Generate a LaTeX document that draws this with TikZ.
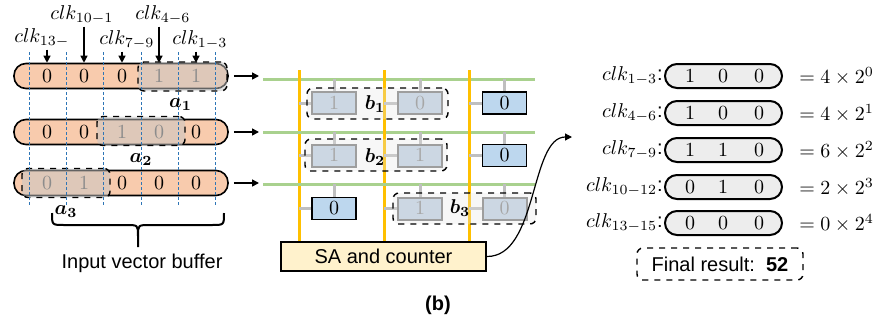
\documentclass[tikz,border=0pt]{standalone}
\usepackage{fontspec}
\setmainfont{Liberation Sans}
\usepackage{amsmath}
\usepackage{bm}
\usetikzlibrary{positioning,arrows.meta}

\definecolor{bufferorange}{HTML}{F8CBAD}
\definecolor{cellblue}{HTML}{BDD7EE}
\definecolor{selblue}{HTML}{C2D2E3}
\definecolor{wordgreen}{HTML}{A9D18E}
\definecolor{bitorange}{HTML}{FFC000}
\definecolor{sayellow}{HTML}{FFF2CC}
\definecolor{stubgray}{HTML}{BFBFBF}
\definecolor{pillgray}{HTML}{EDEDED}
\definecolor{clkblue}{HTML}{2E75B6}

\begin{document}
\begin{tikzpicture}[x=0.5pt,y=-0.5pt,font=\fontsize{10}{12}\selectfont,>={Triangle[length=3.5pt,width=3.5pt]}]
\useasboundingbox (0,0) rectangle (884,322);
\tikzstyle{pill}=[draw,line width=0.8pt,fill=bufferorange,rounded corners=6pt,minimum width=107pt,minimum height=12.5pt,inner sep=0pt]
\tikzstyle{rpill}=[draw,line width=1pt,fill=pillgray,rounded corners=6pt,minimum width=58.5pt,minimum height=12pt,inner sep=0pt]
\tikzstyle{sel}=[draw,dashed,line width=0.7pt,fill=gray!45,fill opacity=0.5,rounded corners=3pt,minimum height=14.5pt,inner sep=0pt]
\tikzstyle{bit}=[inner sep=0pt]
\tikzstyle{gbit}=[inner sep=0pt,text=black!45]
\tikzstyle{cell}=[draw,line width=0.8pt,fill=cellblue,minimum width=22pt,minimum height=11pt,inner sep=0pt]
\tikzstyle{selcell}=[draw=black!50,line width=1pt,fill=selblue,text=black!45,minimum width=22pt,minimum height=11pt,inner sep=0pt]
\tikzstyle{bbox}=[draw,dashed,line width=0.7pt,fill=gray!20,fill opacity=0.3,rounded corners=3pt,inner sep=0pt]
\tikzstyle{wl}=[wordgreen,line width=1.5pt]
\tikzstyle{bl}=[bitorange,line width=1.5pt]
\tikzstyle{stub}=[stubgray,line width=1.5pt]

% input vector buffer
\node[pill] (v1) at (121,76) {};
\node[pill] (v2) at (121,132) {};
\node[pill] (v3) at (121,183) {};
\node[sel,minimum width=44.5pt] (s1) at (182.5,76.5) {};
\node[sel,minimum width=44pt] (s2) at (141,131) {};
\node[sel,minimum width=44pt] (s3) at (66,183) {};
\foreach \x/\d/\s [count=\i] in {47/0/bit,84/0/bit,122/0/bit,159/1/gbit,196/1/gbit}
  \node[\s] (d1\i) at (\x,76) {$\d$};
\foreach \x/\d/\s [count=\i] in {47/0/bit,84/0/bit,122/1/gbit,159/0/gbit,196/0/bit}
  \node[\s] (d2\i) at (\x,132) {$\d$};
\foreach \x/\d/\s [count=\i] in {47/0/gbit,84/1/gbit,122/0/bit,159/0/bit,196/0/bit}
  \node[\s] (d3\i) at (\x,183) {$\d$};
\foreach \x in {29,66,103,141,178,215}
  \draw[clkblue,dash pattern=on 1.5pt off 1pt,line width=0.45pt] (\x,52) -- (\x,207);
\node[below=0pt of s1,xshift=-1pt] (a1) {$\bm{a_1}$};
\node[below=0pt of s2] (a2) {$\bm{a_2}$};
\node[below=0pt of s3] (a3) {$\bm{a_3}$};

\node[anchor=west,inner sep=1pt] (k1) at (12,38) {$clk_{13-}$};
\node[anchor=west,inner sep=1pt] (k2) at (48,15) {$clk_{10-1}$};
\node[anchor=west,inner sep=1pt] (k3) at (97,40) {$clk_{7-9}$};
\node[anchor=west,inner sep=1pt] (k4) at (133,15) {$clk_{4-6}$};
\node[anchor=west,inner sep=1pt] (k5) at (170,40) {$clk_{1-3}$};
\foreach \i in {1,...,5}
  \draw[->,line width=0.6pt] (k\i.south -| d1\i) -- (d1\i |- v1.north);

\draw[line width=1pt] (52,213) .. controls (52,225) .. (64,225) -- (126,225) .. controls (138,225) .. (138,236) -- (138,247);
\draw[line width=1pt] (224,213) .. controls (224,225) .. (212,225) -- (150,225) .. controls (138,225) .. (138,236);
\node (ivb) at (142,263) {Input vector buffer};

% crossbar
\coordinate (w1) at (263,79);
\coordinate (w2) at (263,132);
\coordinate (w3) at (263,184);
\coordinate (o1) at (299,70);
\coordinate (o2) at (384,70);
\coordinate (o3) at (469,70);
\node[draw,line width=0.8pt,fill=sayellow,minimum width=102.5pt,minimum height=14.5pt] (sa) at (383.5,256.5) {SA and counter};
\foreach \i in {1,2,3} {
  \draw[wl] (w\i) -- ++(272,0);
  \draw[bl] (o\i) -- (o\i |- sa.north);
  \draw[->,line width=0.8pt] ([xshift=2.5pt]v\i.east) -- ([xshift=-2pt]v\i.east -| w\i);
}
\node[selcell] (c11) at (334,103) {$1$};
\node[selcell] (c12) at (420,103) {$0$};
\node[cell] (c13) at (504.5,103) {$0$};
\node[selcell] (c21) at (334,155.5) {$1$};
\node[selcell] (c22) at (420,155.5) {$1$};
\node[cell] (c23) at (504.5,155.5) {$0$};
\node[cell] (c31) at (334,208.5) {$0$};
\node[selcell] (c32) at (420,208.5) {$1$};
\node[selcell] (c33) at (504.5,208.5) {$0$};
\foreach \r in {1,2,3}
  \foreach \c in {1,2,3} {
    \draw[stub] (c\r\c.north) -- (c\r\c.north |- w\r);
    \draw[stub] (c\r\c.west) -- (c\r\c.west -| o\c);
  }
\node[bbox,minimum width=70.5pt,minimum height=15.5pt] (b1) at (377.5,103.5) {};
\node[bbox,minimum width=71pt,minimum height=16pt] (b2) at (376,155) {};
\node[bbox,minimum width=71.5pt,minimum height=15.5pt] (b3) at (464.5,208.5) {};
\node at (375,104) {$\bm{b_1}$};
\node at (375,157) {$\bm{b_2}$};
\node at (460,208) {$\bm{b_3}$};

\coordinate (out) at (572,137);
\draw[->,line width=0.6pt] (sa.east) .. controls (538,257) and (530,137) .. (out);

% per-clock results
\foreach \y/\a/\b/\c/\l/\e [count=\i] in {76/1/0/0/{1-3}/{4\times 2^0},113/1/0/0/{4-6}/{4\times 2^1},150/1/1/0/{7-9}/{6\times 2^2},187/0/1/0/{10-12}/{2\times 2^3},223/0/0/0/{13-15}/{0\times 2^4}} {
  \node[rpill] (p\i) at (723.5,\y) {};
  \node[bit] at (690,\y) {$\a$};
  \node[bit] at (723,\y) {$\b$};
  \node[bit] at (759,\y) {$\c$};
  \node[anchor=east,inner sep=0.5pt] (l\i) at (p\i.west) {$clk_{\l}$:};
  \node[anchor=west,inner sep=0pt] (e\i) at (799,\y) {$=\e$};
}
\node[draw,dashed,line width=0.7pt,rounded corners=3pt,minimum width=83pt,minimum height=16pt] (res) at (720,264) {Final result:\ \ \textbf{52}};

\node (cap) at (438,305) {\textbf{(b)}};
\end{tikzpicture}
\end{document}
